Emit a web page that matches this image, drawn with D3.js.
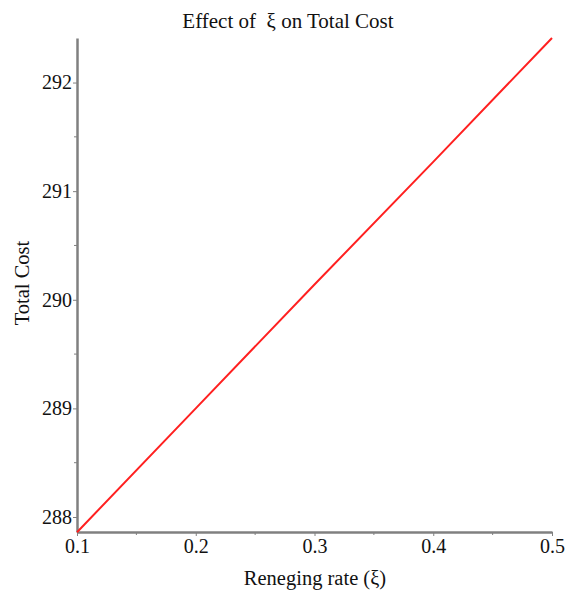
<!DOCTYPE html>
<html>
<head>
<meta charset="utf-8">
<script src="https://cdn.jsdelivr.net/npm/d3@7"></script>
<style>
  body { margin: 0; background: #fff; }
  text { font-family: "Liberation Serif", "DejaVu Serif", serif; fill: #111; }
</style>
</head>
<body>
<div id="chart"></div>
<script>
// Effect of reneging rate on total cost
const xiValues = [0.1, 0.2, 0.3, 0.4, 0.5];
const totalCost = [287.86, 289.00, 290.14, 291.27, 292.41];
const xTicks = [0.1, 0.2, 0.3, 0.4, 0.5];
const xMinor = [0.15, 0.25, 0.35, 0.45];
const yTicks = [288, 289, 290, 291, 292];
const yMinor = [288.5, 289.5, 290.5, 291.5];

const width = 575, height = 593;
const margin = { top: 38, right: 23, bottom: 61, left: 77 };

const svg = d3.select('#chart').append('svg')
    .attr('width', width)
    .attr('height', height);

const data = xiValues.map((d, i) => ({ xi: d, cost: totalCost[i] }));

const x = d3.scaleLinear()
    .domain([0.1, 0.5])
    .range([margin.left, width - margin.right]);

const y = d3.scaleLinear()
    .domain([287.862, 292.41])
    .range([height - margin.bottom, margin.top]);

const axisColor = '#808080';

// x axis
const gx = svg.append('g')
    .attr('transform', `translate(0,${height - margin.bottom})`);
gx.call(d3.axisBottom(x).tickValues(xTicks).tickSize(4).tickSizeOuter(0).tickPadding(3)
    .tickFormat(d3.format('.1f')));
gx.append('g').selectAll('line').data(xMinor).join('line')
    .attr('x1', d => x(d)).attr('x2', d => x(d))
    .attr('y1', 0).attr('y2', 3)
    .attr('stroke', axisColor).attr('stroke-width', 1);

// y axis
const gy = svg.append('g')
    .attr('transform', `translate(${margin.left},0)`);
gy.call(d3.axisLeft(y).tickValues(yTicks).tickSize(4).tickSizeOuter(0).tickPadding(1)
    .tickFormat(d3.format('d')));
gy.append('g').selectAll('line').data(yMinor).join('line')
    .attr('x1', -3).attr('x2', 0)
    .attr('y1', d => y(d)).attr('y2', d => y(d))
    .attr('stroke', axisColor).attr('stroke-width', 1);

svg.selectAll('.domain')
    .attr('stroke', axisColor)
    .attr('stroke-width', 2.5);
svg.selectAll('.tick line').attr('stroke', axisColor);
svg.selectAll('.tick text')
    .style('font-size', '20px')
    .style('font-family', '"Liberation Serif", serif')
    .attr('fill', '#111');

// line
svg.append('path')
    .datum(data)
    .attr('fill', 'none')
    .attr('stroke', '#ff2020')
    .attr('stroke-width', 2)
    .attr('d', d3.line().x(d => x(d.xi)).y(d => y(d.cost)));

// title and labels
svg.append('text')
    .attr('x', 288)
    .attr('y', 28)
    .attr('text-anchor', 'middle')
    .style('font-size', '21px')
    .text('Effect of \u00a0\u03be on Total Cost');

svg.append('text')
    .attr('x', 315)
    .attr('y', 585)
    .attr('text-anchor', 'middle')
    .style('font-size', '20.5px')
    .text('Reneging rate (\u03be)');

svg.append('text')
    .attr('transform', `translate(29,${283}) rotate(-90)`)
    .attr('text-anchor', 'middle')
    .style('font-size', '20.5px')
    .text('Total Cost');
</script>
</body>
</html>
